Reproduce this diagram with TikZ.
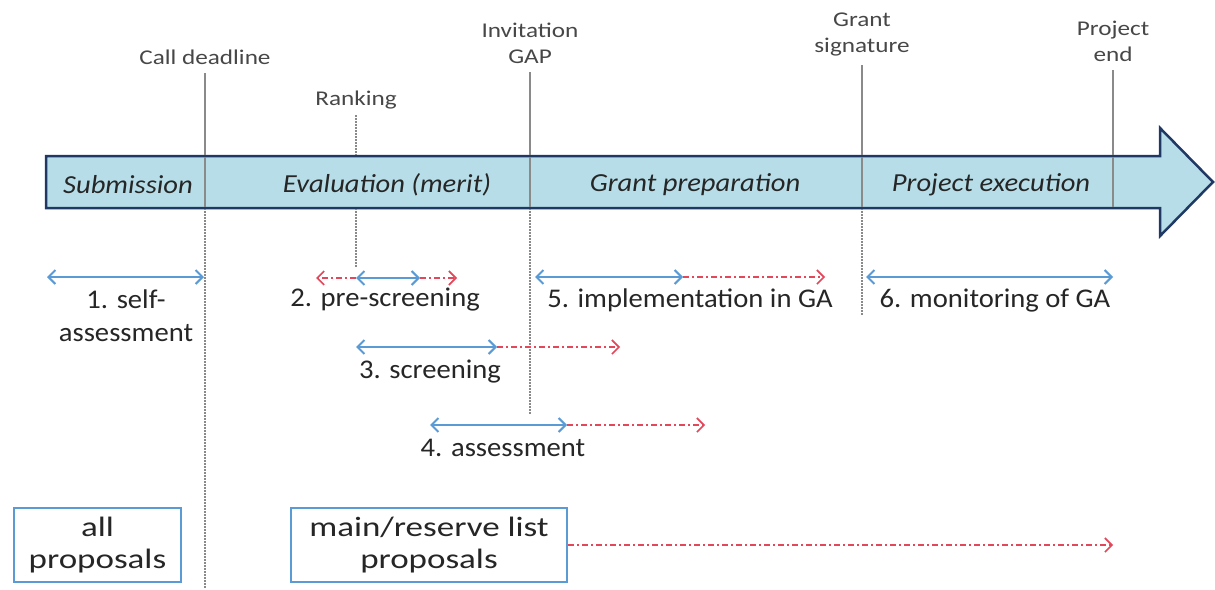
\documentclass[tikz,border=0pt]{standalone}
\usepackage{fontspec}
\setmainfont{Carlito}
\newfontfamily\topfont{Carlito}[FakeStretch=1.2]
\newfontfamily\phasefont{Carlito}[FakeStretch=1.1]
\newfontfamily\stepfont{Carlito}[FakeStretch=1.06]
\newfontfamily\boxfont{Carlito}[FakeStretch=1.25]
\usetikzlibrary{arrows.meta}
\definecolor{bodyfill}{HTML}{B7DEE8}
\definecolor{bodyline}{HTML}{1F3864}
\definecolor{tlblue}{HTML}{5B9BD5}
\definecolor{tlred}{HTML}{E2475A}
\definecolor{vgray}{HTML}{8A8A8A}
\definecolor{txt}{HTML}{262626}
\tikzset{
  toplabel/.style={text=txt!85, align=center, inner sep=0pt,
    font=\topfont\fontsize{21}{26}\selectfont},
  phase/.style={text=txt, inner sep=0pt, font=\phasefont\itshape\fontsize{26}{30}\selectfont},
  steplabel/.style={text=txt, align=center, inner sep=0pt,
    font=\stepfont\fontsize{27}{33}\selectfont},
  listbox/.style={draw=tlblue, line width=2.4pt, fill=white, align=center,
    text=txt, inner sep=0pt, minimum height=74pt,
    font=\boxfont\fontsize{28}{32}\selectfont},
  milestone/.style={draw=vgray, line width=1.8pt},
  guide/.style={draw=vgray, line width=1.6pt, dash pattern=on 1.5pt off 1.5pt},
  bluearr/.style={draw=tlblue, line width=2pt,
    {Straight Barb[length=7pt,width=14pt]}-{Straight Barb[length=7pt,width=14pt]}},
  redarr/.style={draw=tlred, line width=1.6pt,
    dash pattern=on 6pt off 3pt on 2pt off 3pt,
    -{Straight Barb[length=7pt,width=14pt]}},
}
\begin{document}
\begin{tikzpicture}[x=1pt,y=-1pt]
\useasboundingbox (0,0) rectangle (1215,589);

% main timeline arrow
\draw[fill=bodyfill, draw=bodyline, line width=2.5pt, line join=miter]
  (46,156) -- (1160,156) -- (1160,128) -- (1213,182) -- (1160,236)
  -- (1160,208) -- (46,208) -- cycle;

% milestones (coordinates)
\coordinate (cdT) at (205,73);  \coordinate (cdB) at (205,208); \coordinate (cdE) at (205,589);
\coordinate (rkT) at (356,115); \coordinate (rkA) at (356,156); \coordinate (rkB) at (356,208); \coordinate (rkE) at (356,267);
\coordinate (igT) at (530,72);  \coordinate (igB) at (530,208); \coordinate (igE) at (530,415);
\coordinate (gsT) at (862,65);  \coordinate (gsB) at (862,208); \coordinate (gsE) at (862,316);
\coordinate (peT) at (1113,70); \coordinate (peB) at (1113,208);

\draw[milestone] (cdT) -- (cdB);
\draw[milestone] (igT) -- (igB);
\draw[milestone] (gsT) -- (gsB);
\draw[milestone] (peT) -- (peB);
\draw[guide] (rkT) -- (rkA);
\draw[guide] (rkB) -- (rkE);
\draw[guide] (cdB) -- (cdE);
\draw[guide] (igB) -- (igE);
\draw[guide] (gsB) -- (gsE);

% redraw body outline lines over milestone lines
\draw[draw=bodyline, line width=2.5pt] (46,156) -- (1160,156);
\draw[draw=bodyline, line width=2.5pt] (46,208) -- (1160,208);

% top labels
\node[toplabel] (lcd) at (205,57) {Call deadline};
\node[toplabel] (lrk) at (356,100) {Ranking};
\node[toplabel] (lig) at (530,43) {Invitation\\GAP};
\node[toplabel] (lgs) at (862,34) {Grant\\signature};
\node[toplabel] (lpe) at (1113,41) {Project\\end};

% phases
\node[phase] (ph1) at (128,185) {Submission};
\node[phase] (ph2) at (387,185) {Evaluation (merit)};
\node[phase] (ph3) at (695,185) {Grant preparation};
\node[phase] (ph4) at (991,185) {Project execution};

% step 1
\coordinate (s1a) at (47,277); \coordinate (s1b) at (204,277);
\draw[bluearr] (s1a) -- (s1b);
\node[steplabel] (t1) at (126,316) {1. self-\\assessment};

% step 2
\coordinate (s2r0) at (316,278); \coordinate (s2a) at (356,278);
\coordinate (s2b) at (420,278); \coordinate (s2r1) at (457,278);
\draw[redarr] (s2a) -- (s2r0);
\draw[redarr] (s2b) -- (s2r1);
\draw[bluearr] (s2a) -- (s2b);
\node[steplabel] (t2) at (385,300) {2. pre-screening};

% step 3
\coordinate (s3a) at (356,347); \coordinate (s3b) at (497,347); \coordinate (s3r) at (620,347);
\draw[redarr] (s3b) -- (s3r);
\draw[bluearr] (s3a) -- (s3b);
\node[steplabel] (t3) at (430,372) {3. screening};

% step 4
\coordinate (s4a) at (430,425); \coordinate (s4b) at (567,425); \coordinate (s4r) at (705,425);
\draw[redarr] (s4b) -- (s4r);
\draw[bluearr] (s4a) -- (s4b);
\node[steplabel] (t4) at (503,448) {4. assessment};

% step 5
\coordinate (s5a) at (535,277); \coordinate (s5b) at (683,277); \coordinate (s5r) at (825,277);
\draw[redarr] (s5b) -- (s5r);
\draw[bluearr] (s5a) -- (s5b);
\node[steplabel] (t5) at (690,300) {5. implementation in GA};

% step 6
\coordinate (s6a) at (866,277); \coordinate (s6b) at (1113,277);
\draw[bluearr] (s6a) -- (s6b);
\node[steplabel] (t6) at (995,301) {6. monitoring of GA};

% boxes
\node[listbox, minimum width=167pt] (all) at (97.5,545) {all\\proposals};
\node[listbox, minimum width=276pt] (main) at (429,545) {main/reserve list\\proposals};
\coordinate (listend) at (1113,545);
\draw[redarr] (main.east) -- (listend);
\end{tikzpicture}
\end{document}
